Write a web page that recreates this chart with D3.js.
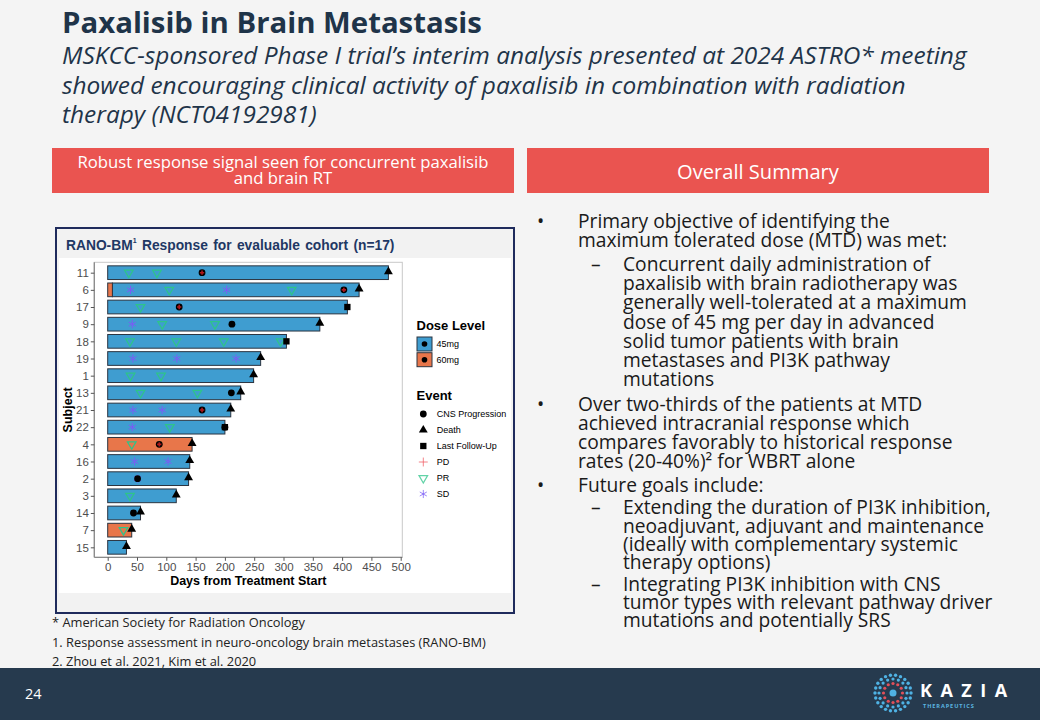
<!DOCTYPE html>
<html>
<head>
<meta charset="utf-8">
<script src="https://cdn.jsdelivr.net/npm/d3@7/dist/d3.min.js"></script>
<style>
  html, body { margin: 0; padding: 0; background: #f4f4f4; }
  svg { display: block; }
</style>
</head>
<body>
<svg width="1040" height="720"></svg>
<script>
// ---- chart data ----
const subjects = ['11', '6', '17', '9', '18', '19', '1', '13', '21', '22', '4', '16', '2', '3', '14', '7', '15'];
const endDays = [479, 429, 409, 362, 305, 261, 249, 227, 210, 200, 144, 140, 138, 117, 56, 41, 32];
const doses = ['45mg', '45mg', '45mg', '45mg', '45mg', '45mg', '45mg', '45mg', '45mg', '45mg',
  '60mg', '45mg', '45mg', '45mg', '45mg', '60mg', '45mg'];
// subject 6 started on 60mg for the first days
const doseSwitch = [['6', 8, '60mg']];

const xTicks = [0, 50, 100, 150, 200, 250, 300, 350, 400, 450, 500];

// [subject, day, event]
const responses = [
  ['11', 36, 'PR'], ['11', 84, 'PR'],
  ['6', 39, 'SD'], ['6', 105, 'PR'], ['6', 203, 'SD'], ['6', 314, 'PR'],
  ['17', 56, 'PR'],
  ['9', 42, 'SD'], ['9', 93, 'PR'], ['9', 183, 'PR'],
  ['18', 38, 'PR'], ['18', 117, 'PR'], ['18', 198, 'PR'], ['18', 295, 'PR'],
  ['19', 43, 'SD'], ['19', 118, 'SD'], ['19', 219, 'SD'],
  ['1', 39, 'PR'], ['1', 91, 'PR'],
  ['13', 56, 'PR'], ['13', 153, 'PR'],
  ['21', 43, 'SD'], ['21', 93, 'SD'],
  ['22', 42, 'SD'], ['22', 106, 'PR'],
  ['4', 41, 'PR'],
  ['16', 46, 'SD'], ['16', 103, 'SD'],
  ['2', 51, 'SD'],
  ['3', 38, 'PR'],
  ['7', 27, 'PR']
];
const progressions = [
  ['11', 161], ['6', 403], ['17', 122], ['9', 212], ['13', 211], ['21', 161],
  ['22', 200], ['4', 88], ['2', 51], ['14', 44]
];
const pdEvents = [['11', 161], ['6', 403], ['17', 122], ['21', 161], ['22', 200], ['4', 88]];
const outcomes = [
  ['11', 479, 'Death'], ['6', 429, 'Death'], ['17', 409, 'Last Follow-Up'], ['9', 362, 'Death'],
  ['18', 305, 'Last Follow-Up'], ['19', 261, 'Death'], ['1', 249, 'Death'], ['13', 227, 'Death'],
  ['21', 210, 'Death'], ['22', 200, 'Last Follow-Up'], ['4', 144, 'Death'], ['16', 140, 'Death'],
  ['2', 138, 'Death'], ['3', 117, 'Death'], ['14', 56, 'Death'], ['7', 41, 'Death'], ['15', 32, 'Death']
];

const doseLevels = ['45mg', '60mg'];
const eventNames = ['CNS Progression', 'Death', 'Last Follow-Up', 'PD', 'PR', 'SD'];

// ---- slide text ----
const bodyLines = [
  [0, 'Primary objective of identifying the', 222, true],
  [0, 'maximum tolerated dose (MTD) was met:', 241],
  [1, 'Concurrent daily administration of', 265, true],
  [1, 'paxalisib with brain radiotherapy was', 284],
  [1, 'generally well-tolerated at a maximum', 303],
  [1, 'dose of 45 mg per day in advanced', 322.5],
  [1, 'solid tumor patients with brain', 341.7],
  [1, 'metastases and PI3K pathway', 360.7],
  [1, 'mutations', 379.5],
  [0, 'Over two-thirds of the patients at MTD', 405, true],
  [0, 'achieved intracranial response which', 423.5],
  [0, 'compares favorably to historical response', 442.7],
  [0, 'rates (20-40%)\u00b2 for WBRT alone', 461.7],
  [0, 'Future goals include:', 486, true],
  [1, 'Extending the duration of PI3K inhibition,', 508.3, true],
  [1, 'neoadjuvant, adjuvant and maintenance', 526.7],
  [1, '(ideally with complementary systemic', 545],
  [1, 'therapy options)', 563.3],
  [1, 'Integrating PI3K inhibition with CNS', 585, true],
  [1, 'tumor types with relevant pathway driver', 603.3],
  [1, 'mutations and potentially SRS', 621]
];
const footnotes = [
  '* American Society for Radiation Oncology',
  '1. Response assessment in neuro-oncology brain metastases (RANO-BM)',
  '2. Zhou et al. 2021, Kim et al. 2020'
];
const subtitle = [
  'MSKCC-sponsored Phase I trial\u2019s interim analysis presented at 2024 ASTRO* meeting',
  'showed encouraging clinical activity of paxalisib in combination with radiation',
  'therapy (NCT04192981)'
];

const navy = '#1f3449';
const red = '#ea5450';
const slideFont = '"Open Sans", Lato, sans-serif';
const chartFont = '"Liberation Sans", Arial, sans-serif';

const doseColor = d3.scaleOrdinal().domain(doseLevels).range(['#3f9dd0', '#e8764a']);
const eventColor = { PD: '#ef5a62', PR: '#2ec48a', SD: '#7b5cf5' };

const svg = d3.select('svg');

// scale a text's font size so that it spans the width seen on the slide
function fitWidth(textSel, target, groupSel) {
  const w = textSel.node().getComputedTextLength();
  const host = groupSel || textSel;
  const fs = +host.attr('font-size');
  host.attr('font-size', (fs * target / w).toFixed(2));
}

svg.append('rect').attr('width', 1040).attr('height', 720).attr('fill', '#f4f4f4');

// ---- header ----
const title = svg.append('text')
  .attr('x', 62).attr('y', 33)
  .attr('font-family', slideFont).attr('font-weight', 700).attr('font-size', 29)
  .attr('fill', navy)
  .text('Paxalisib in Brain Metastasis');
fitWidth(title, 420);

const sub = svg.append('g')
  .attr('font-family', slideFont).attr('font-style', 'italic').attr('font-size', 21)
  .attr('fill', navy);
sub.selectAll('text')
  .data(subtitle)
  .join('text')
  .attr('x', 62).attr('y', (d, i) => 64 + i * 29.7)
  .text(d => d);
fitWidth(sub.select('text'), 905, sub);

// red title boxes
svg.append('rect').attr('x', 52).attr('y', 148).attr('width', 462).attr('height', 45).attr('fill', red);
svg.append('rect').attr('x', 527).attr('y', 148).attr('width', 462).attr('height', 45).attr('fill', red);

const boxText = svg.append('g')
  .attr('font-family', slideFont).attr('font-size', 15)
  .attr('fill', '#fff').attr('text-anchor', 'middle');
boxText.selectAll('text')
  .data(['Robust response signal seen for concurrent paxalisib', 'and brain RT'])
  .join('text')
  .attr('x', 283).attr('y', (d, i) => 168 + i * 16)
  .text(d => d);
fitWidth(boxText.select('text'), 411, boxText);

const summary = svg.append('text')
  .attr('x', 758).attr('y', 179)
  .attr('text-anchor', 'middle')
  .attr('font-family', slideFont).attr('font-size', 19)
  .attr('fill', '#fff')
  .text('Overall Summary');
fitWidth(summary, 162);

// ---- bullets ----
const body = svg.append('g')
  .attr('font-family', slideFont).attr('font-size', 18).attr('fill', '#1a1a1a');

body.selectAll('text.line')
  .data(bodyLines)
  .join('text')
  .attr('class', 'line')
  .attr('x', d => d[0] === 0 ? 578 : 623)
  .attr('y', d => d[2] + 6)
  .text(d => d[1]);
fitWidth(body.select('text.line'), 312, body);

body.selectAll('text.mark')
  .data(bodyLines.filter(d => d[3]))
  .join('text')
  .attr('class', 'mark')
  .attr('x', d => d[0] === 0 ? 537 : 591)
  .attr('y', d => d[2] + 6)
  .text(d => d[0] === 0 ? '\u2022' : '\u2013');

// ---- footnotes ----
const notes = svg.append('g')
  .attr('font-family', slideFont).attr('font-size', 12.5)
  .attr('fill', '#222');
notes.selectAll('text')
  .data(footnotes)
  .join('text')
  .attr('x', 52).attr('y', (d, i) => 627 + i * 19.5)
  .text(d => d);
fitWidth(notes.select('text'), 253, notes);

// ---- footer ----
svg.append('rect').attr('x', 0).attr('y', 668).attr('width', 1040).attr('height', 52).attr('fill', '#263a4e');
svg.append('text')
  .attr('x', 25).attr('y', 699)
  .attr('font-family', slideFont).attr('font-size', 14.5)
  .attr('fill', '#fff')
  .text('24');

const logo = svg.append('g').attr('transform', 'translate(893,693)');
const rings = [[18, 22, '#4fb2e4', 1.7], [14, 16, '#4fb2e4', 1.6], [9.5, 12, '#e2505a', 1.6]];
rings.forEach(([r, n, c, dr]) => {
  logo.selectAll(null)
    .data(d3.range(n))
    .join('circle')
    .attr('cx', i => r * Math.cos(i / n * 2 * Math.PI))
    .attr('cy', i => r * Math.sin(i / n * 2 * Math.PI))
    .attr('r', dr)
    .attr('fill', c);
});
logo.append('circle').attr('r', 3.5).attr('fill', '#4fb2e4');

svg.append('text')
  .attr('x', 920).attr('y', 696.5)
  .attr('font-family', '"Open Sans", sans-serif').attr('font-weight', 700).attr('font-size', 18)
  .attr('letter-spacing', 8.5)
  .attr('fill', '#fff')
  .text('KAZIA');
svg.append('text')
  .attr('x', 923).attr('y', 708)
  .attr('font-family', '"Open Sans", sans-serif').attr('font-weight', 700).attr('font-size', 5.6)
  .attr('letter-spacing', 0.9)
  .attr('fill', '#5bb5e0')
  .text('THERAPEUTICS');

// ---- chart frame ----
svg.append('rect')
  .attr('x', 56).attr('y', 228).attr('width', 458).attr('height', 385)
  .attr('fill', '#f2f2f2').attr('stroke', '#1f2b5c').attr('stroke-width', 2);
svg.append('rect')
  .attr('x', 59).attr('y', 258).attr('width', 452).attr('height', 335)
  .attr('fill', '#fff');

const chartTitle = svg.append('text')
  .attr('x', 66).attr('y', 249.5)
  .attr('font-family', chartFont).attr('font-weight', 700).attr('font-size', 13.8)
  .attr('fill', '#1f3864')
  .attr('word-spacing', 1.5);
chartTitle.append('tspan').text('RANO-BM');
chartTitle.append('tspan').attr('dy', -7).attr('font-size', 7).text('1');
chartTitle.append('tspan').attr('dy', 7).text(' Response for evaluable cohort (n=17)');

// ---- swimmer plot ----
const panel = { left: 94.3, right: 402.3, top: 262.3, bottom: 557.3 };

const x = d3.scaleLinear().domain([0, 500]).range([107.7, 400.7]);
const y = d3.scalePoint().domain(subjects).range([264.1, 555.9]).padding(0.5);
const barH = 13.7;

svg.append('rect')
  .attr('x', panel.left).attr('y', panel.top)
  .attr('width', panel.right - panel.left).attr('height', panel.bottom - panel.top)
  .attr('fill', '#fff').attr('stroke', '#c8c8c8').attr('stroke-width', 1);

// bar segments
const segments = subjects.map((s, i) => ({ subject: s, start: 0, end: endDays[i], dose: doses[i] }));
doseSwitch.forEach(([s, day, dose]) => {
  const seg = segments.find(d => d.subject === s);
  segments.push({ subject: s, start: 0, end: day, dose: dose });
  seg.start = day;
});

svg.append('g')
  .selectAll('rect')
  .data(segments)
  .join('rect')
  .attr('x', d => x(d.start))
  .attr('y', d => y(d.subject) - barH / 2)
  .attr('width', d => x(d.end) - x(d.start))
  .attr('height', barH)
  .attr('fill', d => doseColor(d.dose))
  .attr('stroke', '#2b3440')
  .attr('stroke-width', 1);

// axes lines
svg.append('line')
  .attr('x1', panel.left).attr('x2', panel.left).attr('y1', panel.top).attr('y2', panel.bottom)
  .attr('stroke', '#8a8a8a').attr('stroke-width', 1.3);
svg.append('line')
  .attr('x1', panel.left).attr('x2', panel.right).attr('y1', panel.bottom).attr('y2', panel.bottom)
  .attr('stroke', '#8a8a8a').attr('stroke-width', 1.3);

const xAxis = svg.append('g')
  .attr('transform', `translate(0, ${panel.bottom})`)
  .call(d3.axisBottom(x).tickValues(xTicks).tickSize(3.5).tickPadding(2.5));
const yAxis = svg.append('g')
  .attr('transform', `translate(${panel.left}, 0)`)
  .call(d3.axisLeft(y).tickSize(3.5).tickPadding(2));

[xAxis, yAxis].forEach(g => {
  g.select('.domain').remove();
  g.selectAll('line').attr('stroke', '#555');
  g.selectAll('text')
    .attr('font-family', chartFont).attr('font-size', 11.5).attr('fill', '#4d4d4d');
});

svg.append('text')
  .attr('x', (panel.left + panel.right) / 2).attr('y', 585)
  .attr('text-anchor', 'middle')
  .attr('font-family', chartFont).attr('font-weight', 700).attr('font-size', 12.5)
  .attr('fill', '#000')
  .text('Days from Treatment Start');

svg.append('text')
  .attr('transform', `translate(71.5, ${(panel.top + panel.bottom) / 2}) rotate(-90)`)
  .attr('text-anchor', 'middle')
  .attr('font-family', chartFont).attr('font-weight', 700).attr('font-size', 12.5)
  .attr('fill', '#000')
  .text('Subject');

// marker drawing
const shapes = {
  'PR': d3.symbol(d3.symbolTriangle, 32),
  'SD': d3.symbol(d3.symbolAsterisk, 46),
  'PD': d3.symbol(d3.symbolPlus, 28),
  'CNS Progression': d3.symbol(d3.symbolCircle, 36),
  'Death': d3.symbol(d3.symbolTriangle, 34),
  'Last Follow-Up': d3.symbol(d3.symbolSquare, 40)
};

function marker(sel, type) {
  const p = sel.append('path').attr('d', shapes[type]());
  if (type === 'PR') {
    p.attr('fill', 'none').attr('stroke', eventColor.PR).attr('stroke-width', 1.25)
      .attr('transform', 'rotate(180)');
  } else if (type === 'SD') {
    p.attr('fill', 'none').attr('stroke', eventColor.SD).attr('stroke-width', 1);
  } else if (type === 'PD') {
    p.attr('fill', 'none').attr('stroke', eventColor.PD).attr('stroke-width', 1);
  } else {
    p.attr('fill', '#000');
  }
  return p;
}

const events = svg.append('g');

events.selectAll('g.resp')
  .data(responses)
  .join('g')
  .attr('class', 'resp')
  .attr('transform', d => `translate(${x(d[1])}, ${y(d[0])})`)
  .each(function(d) { marker(d3.select(this), d[2]); });

events.selectAll('circle.cns')
  .data(progressions)
  .join('circle')
  .attr('class', 'cns')
  .attr('cx', d => x(d[1])).attr('cy', d => y(d[0]))
  .attr('r', 3.4)
  .attr('fill', '#000');

events.selectAll('path.pd')
  .data(pdEvents)
  .join('path')
  .attr('class', 'pd')
  .attr('d', d3.symbol(d3.symbolPlus, 7)())
  .attr('transform', d => `translate(${x(d[1])}, ${y(d[0])})`)
  .attr('fill', 'none')
  .attr('stroke', '#b0181c')
  .attr('stroke-width', 1.6);

events.selectAll('g.out')
  .data(outcomes)
  .join('g')
  .attr('class', 'out')
  .attr('transform', d => `translate(${x(d[1])}, ${y(d[0]) + (d[2] === 'Death' ? -1 : 0)})`)
  .each(function(d) { marker(d3.select(this), d[2]); });

// ---- legend ----
const legend = svg.append('g').attr('font-family', chartFont);

legend.append('text')
  .attr('x', 416.5).attr('y', 330)
  .attr('font-weight', 700).attr('font-size', 13)
  .text('Dose Level');

const doseKey = legend.selectAll('g.dose')
  .data(doseLevels)
  .join('g')
  .attr('class', 'dose')
  .attr('transform', (d, i) => `translate(417, ${337 + i * 15.7})`);
doseKey.append('rect')
  .attr('width', 15).attr('height', 14)
  .attr('fill', d => doseColor(d))
  .attr('stroke', '#2b3440').attr('stroke-width', 1);
doseKey.append('circle')
  .attr('cx', 7.5).attr('cy', 7).attr('r', 2.8).attr('fill', '#000');
doseKey.append('text')
  .attr('x', 19.5).attr('y', 10.3)
  .attr('font-size', 9)
  .text(d => d);

legend.append('text')
  .attr('x', 416.5).attr('y', 400)
  .attr('font-weight', 700).attr('font-size', 13)
  .text('Event');

const eventKey = legend.selectAll('g.ev')
  .data(eventNames)
  .join('g')
  .attr('class', 'ev')
  .attr('transform', (d, i) => `translate(423.3, ${414 + i * 16})`);
eventKey.each(function(d) {
  const g = d3.select(this);
  if (d === 'PR' || d === 'SD' || d === 'PD') {
    marker(g, d).attr('opacity', 0.75);
  } else {
    marker(g, d);
  }
});
eventKey.append('text')
  .attr('x', 13.4).attr('y', 3.2)
  .attr('font-size', 9)
  .text(d => d);
</script>
</body>
</html>
